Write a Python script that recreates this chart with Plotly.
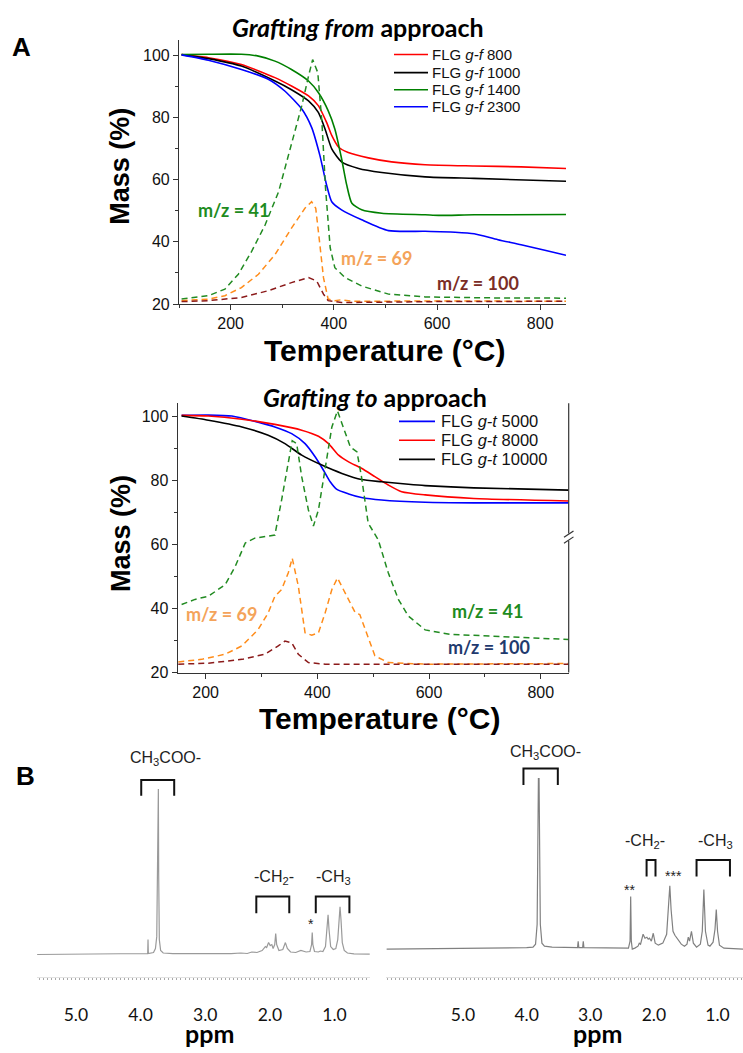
import plotly.graph_objects as go

W, H = 743, 1053

# ---------------- Data: Grafting from (top) ----------------
gf800_T = [105, 157, 221, 286, 318, 351, 370, 386, 396, 409, 428, 467, 512, 577, 672, 763, 850]
gf800_M = [100.2, 99.2, 97.0, 92.8, 90.1, 86.9, 83.8, 78.4, 74.2, 70.5, 68.7, 67.0, 65.7, 64.8, 64.4, 64.1, 63.6]
gf1000_T = [105, 157, 221, 286, 318, 351, 370, 383, 396, 415, 448, 493, 577, 672, 850]
gf1000_M = [100.2, 98.9, 96.5, 91.7, 88.9, 85.3, 81.6, 76.3, 69.9, 65.7, 63.6, 62.3, 60.9, 60.4, 59.5]
gf1400_T = [105, 157, 221, 254, 286, 318, 351, 370, 389, 402, 415, 425, 435, 454, 493, 577, 603, 672, 850]
gf1400_M = [100.2, 100.3, 100.3, 99.7, 98.1, 95.4, 91.7, 88.0, 82.2, 76.3, 66.8, 58.3, 52.4, 50.3, 49.2, 48.7, 48.5, 48.7, 48.8]
gf2300_T = [105, 157, 221, 273, 305, 338, 357, 373, 386, 396, 415, 454, 506, 577, 635, 672, 718, 763, 809, 850]
gf2300_M = [100.1, 98.4, 95.4, 92.3, 88.5, 82.7, 76.8, 67.8, 58.3, 52.9, 50.3, 47.1, 43.6, 43.4, 43.1, 42.6, 40.7, 39.1, 37.3, 35.7]
gf_mz41_T = [105, 157, 189, 215, 241, 267, 293, 318, 338, 351, 359, 369, 377, 384, 393, 402, 422, 454, 506, 577, 700, 850]
gf_mz41_I = [21.6, 22.7, 24.8, 29.6, 37.0, 45.5, 56.1, 71.0, 83.8, 93.3, 98.6, 94.4, 78.4, 57.2, 38.1, 31.7, 28.5, 25.8, 23.2, 22.3, 22.0, 21.9]
gf_mz69_T = [105, 157, 189, 221, 254, 286, 318, 344, 357, 365, 373, 380, 389, 402, 415, 435, 600, 850]
gf_mz69_I = [21.1, 21.6, 22.7, 25.3, 29.6, 35.9, 44.4, 50.8, 52.9, 50.8, 39.1, 28.5, 21.6, 21.1, 21.4, 20.9, 21.0, 20.9]
gf_mz100_T = [105, 157, 221, 273, 318, 351, 367, 380, 389, 415, 600, 850]
gf_mz100_I = [20.8, 21.1, 22.1, 24.3, 26.9, 28.5, 27.4, 23.2, 21.1, 20.5, 20.8, 20.9]

# ---------------- Data: Grafting to (middle) ----------------
gt5000_T = [157, 205, 247, 294, 324, 354, 378, 396, 411, 423, 435, 456, 479, 515, 593, 680, 850]
gt5000_M = [100.2, 100.3, 100.0, 98.1, 96.6, 94.5, 91.4, 87.3, 83.1, 79.5, 77.1, 75.7, 74.6, 73.8, 73.1, 72.9, 72.9]
gt8000_T = [157, 205, 265, 324, 372, 402, 420, 438, 456, 479, 503, 527, 551, 593, 680, 850]
gt8000_M = [100.2, 100.0, 99.0, 97.4, 95.6, 93.7, 91.4, 87.8, 85.7, 83.7, 81.1, 78.5, 76.4, 75.4, 74.3, 73.5]
gt10000_T = [157, 205, 265, 312, 342, 372, 408, 444, 479, 515, 563, 593, 680, 850]
gt10000_M = [100.0, 98.7, 96.6, 94.0, 91.4, 87.8, 84.7, 82.1, 80.2, 79.5, 78.7, 78.3, 77.6, 76.9]
gt_mz41_T = [157, 181, 205, 235, 253, 271, 288, 324, 336, 348, 355, 363, 372, 384, 393, 402, 414, 426, 436, 446, 459, 471, 479, 491, 509, 527, 545, 563, 593, 638, 765, 850]
gt_mz41_I = [41.2, 42.8, 43.8, 47.4, 53.1, 60.4, 61.9, 62.9, 73.8, 86.2, 92.3, 91.4, 81.1, 70.7, 65.7, 70.7, 84.2, 96.6, 101.6, 96.6, 90.4, 88.8, 81.1, 66.6, 61.4, 51.1, 42.8, 37.6, 33.3, 31.9, 30.9, 30.3]
gt_mz69_T = [151, 193, 235, 265, 294, 312, 324, 336, 348, 355, 366, 378, 390, 402, 414, 426, 436, 450, 468, 476, 488, 503, 527, 593, 850]
gt_mz69_I = [23.3, 24.1, 25.7, 28.3, 33.4, 38.6, 43.8, 45.9, 51.1, 55.7, 46.9, 32.4, 31.6, 32.4, 38.6, 45.9, 49.5, 44.8, 38.6, 38.1, 32.4, 25.2, 23.1, 22.6, 22.8]
gt_mz100_T = [151, 205, 265, 306, 330, 342, 354, 366, 384, 414, 850]
gt_mz100_I = [22.6, 22.9, 24.1, 25.7, 28.3, 29.8, 29.3, 25.7, 23.1, 22.6, 22.6]

# ---------------- Data: NMR spectra ----------------
nmr1_ppm = [5.6, 4.5, 3.92, 3.89, 3.885, 3.88, 3.80, 3.77, 3.75, 3.74, 3.735, 3.725, 3.72, 3.71, 3.69, 3.65, 3.5, 3.0,
            2.6, 2.45, 2.35, 2.28, 2.2, 2.12, 2.07, 2.05, 2.02, 1.995, 1.97, 1.95, 1.925, 1.91, 1.895, 1.86, 1.80, 1.76,
            1.73, 1.68, 1.6, 1.52, 1.44, 1.38, 1.355, 1.345, 1.335, 1.31, 1.25, 1.22, 1.18, 1.14, 1.115, 1.10, 1.085,
            1.06, 1.02, 0.98, 0.95, 0.93, 0.915, 0.90, 0.88, 0.85, 0.8, 0.7, 0.45]
nmr1_int = [0.0, 0.2, 0.3, 1.0, 15.0, 1.0, 2.0, 6.0, 18.0, 80.0, 167.0, 167.0, 80.0, 15.0, 4.0, 1.5, 0.8, 0.5,
            0.8, 1.5, 1.0, 2.5, 2.0, 4.0, 8.0, 7.0, 12.0, 9.0, 10.0, 6.0, 10.0, 21.0, 10.0, 4.0, 5.0, 12.0,
            6.0, 2.5, 2.0, 4.0, 2.5, 3.0, 10.0, 22.0, 10.0, 3.0, 2.5, 3.5, 3.0, 8.0, 25.0, 40.0, 25.0,
            8.0, 5.0, 6.0, 15.0, 35.0, 48.0, 35.0, 12.0, 4.0, 1.5, 0.6, 0.3]
nmr2_ppm = [6.2, 5.0, 4.4, 4.0, 3.9, 3.86, 3.835, 3.825, 3.815, 3.805, 3.795, 3.785, 3.76, 3.72, 3.6, 3.3, 3.2, 3.19,
            3.18, 3.12, 3.11, 3.10, 2.8, 2.5, 2.40, 2.375, 2.365, 2.355, 2.34, 2.30, 2.25, 2.23, 2.21, 2.17, 2.14,
            2.11, 2.09, 2.07, 2.04, 2.01, 1.98, 1.93, 1.86, 1.80, 1.77, 1.75, 1.73, 1.70, 1.67, 1.62, 1.57, 1.52,
            1.48, 1.46, 1.44, 1.41, 1.38, 1.33, 1.27, 1.24, 1.215, 1.19, 1.15, 1.12, 1.07, 1.04, 1.02, 1.00, 0.97,
            0.9, 0.6]
nmr2_int = [0.0, 0.5, 1.0, 1.5, 2.0, 5.0, 25.0, 120.0, 172.0, 172.0, 120.0, 25.0, 6.0, 3.0, 2.0, 1.5, 1.5, 8.0,
            1.5, 1.5, 8.0, 1.5, 1.0, 1.0, 1.0, 8.0, 53.0, 8.0, 0.0, 1.0, 3.0, 6.0, 5.0, 15.0, 11.0,
            12.0, 10.0, 11.0, 8.0, 16.0, 6.0, 4.0, 6.0, 15.0, 40.0, 64.0, 40.0, 18.0, 14.0, 10.0, 5.0, 3.0,
            5.0, 12.0, 8.0, 18.0, 6.0, 2.0, 5.0, 18.0, 60.0, 18.0, 4.0, 3.0, 7.0, 20.0, 40.0, 18.0, 4.0,
            1.0, 0.0]

# NMR assignment brackets (ppm spans)
nmr1_brackets = {"CH3COO": (3.99, 3.48), "CH2": (2.21, 1.70), "CH3": (1.29, 0.77)}
nmr2_brackets = {"CH3COO": (4.05, 3.51), "CH2": (2.115, 1.975), "CH3": (1.33, 0.805)}

tga_x_ticks = [200, 400, 600, 800]
nmr_ticks = [5.0, 4.0, 3.0, 2.0, 1.0]
nmr_ticktext = ["5.0", "4.0", "3.0", "2.0", "1.0"]
mid_right_ticks = [100, 96.05, 92.1, 88.15, 84.2, 80.25, 76.3, 72.35, 68.4, 64.45,
                   57.8, 53.9, 50.0, 46.1, 42.2, 38.3, 34.4, 30.5, 26.6, 22.7]


def px(x):
    return x / W


def py(y):
    return 1 - y / H


fig = go.Figure()

DASH = "6px,4px"

top_series = [(gf800_T, gf800_M, "FLG <i>g-f</i> 800", "#ff0000"),
              (gf1000_T, gf1000_M, "FLG <i>g-f</i> 1000", "#000000"),
              (gf1400_T, gf1400_M, "FLG <i>g-f</i> 1400", "#008000"),
              (gf2300_T, gf2300_M, "FLG <i>g-f</i> 2300", "#0000ff")]
mid_series = [(gt5000_T, gt5000_M, "FLG <i>g-t</i> 5000", "#0000ff"),
              (gt8000_T, gt8000_M, "FLG <i>g-t</i> 8000", "#ff0000"),
              (gt10000_T, gt10000_M, "FLG <i>g-t</i> 10000", "#000000")]

for T, M, name, col in top_series:
    fig.add_trace(go.Scatter(x=T, y=M, mode="lines", name=name, showlegend=False,
                             line=dict(color=col, width=1.6, shape="spline", smoothing=0.6),
                             xaxis="x", yaxis="y"))
for T, I, col in [(gf_mz41_T, gf_mz41_I, "#228b22"), (gf_mz69_T, gf_mz69_I, "#ff8c1a"), (gf_mz100_T, gf_mz100_I, "#8b1a1a")]:
    fig.add_trace(go.Scatter(x=T, y=I, mode="lines", showlegend=False, line=dict(color=col, width=1.5, dash=DASH),
                             xaxis="x", yaxis="y"))

for T, M, name, col in mid_series:
    fig.add_trace(go.Scatter(x=T, y=M, mode="lines", name=name, showlegend=False,
                             line=dict(color=col, width=1.6, shape="spline", smoothing=0.6),
                             xaxis="x3", yaxis="y3"))
for T, I, col in [(gt_mz41_T, gt_mz41_I, "#228b22"), (gt_mz69_T, gt_mz69_I, "#ff8c1a"), (gt_mz100_T, gt_mz100_I, "#8b1a1a")]:
    fig.add_trace(go.Scatter(x=T, y=I, mode="lines", showlegend=False, line=dict(color=col, width=1.5, dash=DASH),
                             xaxis="x3", yaxis="y3"))

fig.add_trace(go.Scatter(x=nmr1_ppm, y=nmr1_int, mode="lines", showlegend=False,
                         line=dict(color="#9a9a9a", width=1.2), xaxis="x5", yaxis="y5"))
fig.add_trace(go.Scatter(x=nmr2_ppm, y=nmr2_int, mode="lines", showlegend=False,
                         line=dict(color="#808080", width=1.2), xaxis="x6", yaxis="y6"))

TICKFONT = dict(family="Liberation Sans, Arial", size=16, color="#111")


def tga_x(domain, rng, anchor):
    return dict(domain=domain, range=rng, anchor=anchor, tickmode="array", tickvals=tga_x_ticks,
                ticks="outside", ticklen=5, tickwidth=1, tickcolor="#333", showline=True, linecolor="#333",
                linewidth=1.2, showgrid=False, zeroline=False, tickfont=TICKFONT,
                minor=dict(dtick=100, tick0=0, ticks="outside", ticklen=3, tickcolor="#333", showgrid=False))


def tga_y(domain, rng, anchor):
    return dict(domain=domain, range=rng, anchor=anchor, tick0=0, dtick=20,
                ticks="outside", ticklen=5, tickwidth=1, tickcolor="#333", showline=True, linecolor="#333",
                linewidth=1.2, showgrid=False, zeroline=False, tickfont=TICKFONT,
                minor=dict(dtick=10, tick0=0, ticks="outside", ticklen=3, tickcolor="#333", showgrid=False))


def nmr_x(domain, rng, anchor):
    return dict(domain=domain, range=rng, anchor=anchor, tickmode="array",
                tickvals=nmr_ticks, ticktext=nmr_ticktext, ticks="outside", ticklen=22,
                tickcolor="rgba(0,0,0,0)", showline=True, linecolor="#e2e2e2", linewidth=1,
                showgrid=False, zeroline=False, tickfont=dict(family="Lato, Open Sans", size=17.5, color="#111"),
                minor=dict(dtick=0.0625, tick0=0, ticks="outside", ticklen=2, tickcolor="#a8a8a8", showgrid=False))


top_x = [px(179), px(566)]
top_y = [py(306.7), py(40)]
mid_x = [px(177.7), px(568.7)]
mid_y = [py(678.3), py(406.7)]
nmr_y = [py(985), py(740)]

fig.update_layout(
    width=W, height=H, margin=dict(l=0, r=0, t=0, b=0),
    paper_bgcolor="white", plot_bgcolor="white", showlegend=False,
    xaxis=tga_x(top_x, [100, 850], "y"),
    yaxis=tga_y(top_y, [20, 105], "x"),
    yaxis2=dict(overlaying="y", side="right", anchor="x", range=[20, 105], tick0=0, dtick=10,
                ticks="inside", ticklen=5, tickcolor="#333", showticklabels=False, showline=True,
                linecolor="#333", linewidth=1.2, showgrid=False, zeroline=False),
    xaxis3=tga_x(mid_x, [150, 850], "y3"),
    yaxis3=tga_y(mid_y, [20, 104], "x3"),
    yaxis4=dict(overlaying="y3", side="right", anchor="x3", range=[20, 104], tickmode="array",
                tickvals=mid_right_ticks, ticks="inside", ticklen=5, tickcolor="#333", showticklabels=False,
                showline=False, showgrid=False, zeroline=False),
    xaxis5=nmr_x([px(36.5), px(369.7)], [5.61, 0.456], "y5"),
    yaxis5=dict(domain=nmr_y, range=[-22.3, 222.7], anchor="x5", visible=False),
    xaxis6=nmr_x([px(386), 1.0], [6.21, 0.6], "y6"),
    yaxis6=dict(domain=nmr_y, range=[-27.7, 217.3], anchor="x6", visible=False),
)

ann = []
shapes = []


def add_text(text, x, y, size, color="#000", family="Liberation Sans, Arial", xref="paper", yref="paper",
             angle=0, xanchor="center", yanchor="middle"):
    ann.append(dict(text=text, x=x, y=y, xref=xref, yref=yref, showarrow=False, textangle=angle,
                    font=dict(family=family, size=size, color=color), xanchor=xanchor, yanchor=yanchor,
                    borderpad=0))


# Legends (drawn as line samples + labels)
def legend_block(series, x_line0, x_line1, x_text, rows, size):
    for (T, M, name, col), yrow in zip(series, rows):
        shapes.append(dict(type="line", xref="paper", yref="paper", x0=px(x_line0), x1=px(x_line1),
                           y0=py(yrow), y1=py(yrow), line=dict(color=col, width=1.6)))
        add_text(name, px(x_text), py(yrow), size, color="#111", xanchor="left")


legend_block(top_series, 394, 428, 431, [55, 73.3, 90.5, 107.7], 15)
legend_block(mid_series, 399, 435, 439.5, [425, 444, 463.3], 16.5)

TITLE_F = "Lato, Open Sans"
add_text("<b>A</b>", px(21.5), py(47.5), 26)
add_text("<b>B</b>", px(26), py(783), 26)
add_text("<b><i>Grafting from</i> approach</b>", px(357.6), py(27), 25, family=TITLE_F)
add_text("<b><i>Grafting to</i> approach</b>", px(374.6), py(400.7), 25, family=TITLE_F)
add_text("<b>Mass (%)</b>", px(119.7), py(167.5), 27, angle=-90)
add_text("<b>Mass (%)</b>", px(121), py(538.7), 27, angle=-90)
add_text("<b>Temperature (°C)</b>", px(384), py(354), 30)
add_text("<b>Temperature (°C)</b>", px(379.6), py(725), 30)

add_text("<b>m/z = 41</b>", 204.7, 50.3, 18, color="#1e8c1e", family=TITLE_F, xref="x", yref="y")
add_text("<b>m/z = 69</b>", 483.7, 34.9, 18, color="#f4a35a", family=TITLE_F, xref="x", yref="y")
add_text("<b>m/z = 100</b>", 678.9, 26.9, 18, color="#7b2d26", family=TITLE_F, xref="x", yref="y")
add_text("<b>m/z = 69</b>", 229.3, 38.4, 18, color="#f4a35a", family=TITLE_F, xref="x3", yref="y3")
add_text("<b>m/z = 41</b>", 704.6, 39.1, 18, color="#1e8c1e", family=TITLE_F, xref="x3", yref="y3")
add_text("<b>m/z = 100</b>", 707.3, 27.8, 18, color="#1f3a6e", family=TITLE_F, xref="x3", yref="y3")

NF = "Liberation Sans, Arial"
add_text("CH<sub>3</sub>COO-", 3.61, 197.5, 16, color="#222", family=NF, xref="x5", yref="y5")
add_text("-CH<sub>2</sub>-", 1.94, 77.7, 16, color="#222", family=NF, xref="x5", yref="y5")
add_text("-CH<sub>3</sub>", 1.02, 77.7, 16, color="#222", family=NF, xref="x5", yref="y5")
add_text("*", 1.36, 30.7, 14, color="#222", family=NF, xref="x5", yref="y5")
add_text("CH<sub>3</sub>COO-", 3.70, 198.5, 16, color="#222", family=NF, xref="x6", yref="y6")
add_text("-CH<sub>2</sub>-", 2.14, 109, 16, color="#222", family=NF, xref="x6", yref="y6")
add_text("-CH<sub>3</sub>", 1.04, 109, 16, color="#222", family=NF, xref="x6", yref="y6")
add_text("**", 2.376, 60, 14, color="#222", family=NF, xref="x6", yref="y6")
add_text("***", 1.695, 73.3, 14, color="#222", family=NF, xref="x6", yref="y6")
add_text("<b>ppm</b>", px(209.7), py(1026), 25, family=TITLE_F, yanchor="top")
add_text("<b>ppm</b>", px(597), py(1026), 25, family=TITLE_F, yanchor="top")

for (key, (a, b)) in nmr1_brackets.items():
    top, bot = (176, 160) if key == "CH3COO" else (58.4, 41.7)
    shapes.append(dict(type="path", xref="x5", yref="y5",
                       path=f"M {a},{bot} L {a},{top} L {b},{top} L {b},{bot}",
                       line=dict(color="#111", width=2)))
for (key, (a, b)) in nmr2_brackets.items():
    top, bot = (182.3, 165.6) if key == "CH3COO" else (90, 73.3)
    shapes.append(dict(type="path", xref="x6", yref="y6",
                       path=f"M {a},{bot} L {a},{top} L {b},{top} L {b},{bot}",
                       line=dict(color="#111", width=2)))

# broken right axis of middle panel
xr = px(568.7)
for y0, y1 in [(406.7, 538), (545.5, 678.3)]:
    shapes.append(dict(type="line", xref="paper", yref="paper", x0=xr, x1=xr, y0=py(y0), y1=py(y1),
                       line=dict(color="#333", width=1.2)))
for ya, yb in [(542, 535.5), (548, 541.5)]:
    shapes.append(dict(type="line", xref="paper", yref="paper", x0=px(564), x1=px(573.5), y0=py(ya), y1=py(yb),
                       line=dict(color="#333", width=1.2)))

fig.update_layout(annotations=ann, shapes=shapes)

fig.write_html("out.html", config={"displayModeBar": False},
               post_script="document.body.style.margin='0px';document.body.style.overflow='hidden';")
